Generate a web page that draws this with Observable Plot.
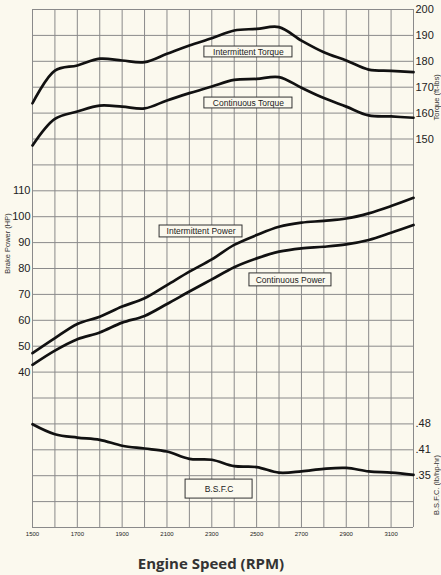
<!DOCTYPE html>
<html>
<head>
<meta charset="utf-8">
<script src="https://cdn.jsdelivr.net/npm/d3@7"></script>
<script src="https://cdn.jsdelivr.net/npm/@observablehq/plot@0.6"></script>
<style>
  html, body { margin: 0; padding: 0; background: #fbf9ee; }
  #chart svg { display: block; background: #fbf9ee; }
  #title {
    width: 422px; padding-right: 19px; text-align: center;
    font: 700 15px "Open Sans", sans-serif; color: #333;
    height: 25px; line-height: 26px;
  }
</style>
</head>
<body>
<div id="chart"></div>
<div id="title">Engine Speed (RPM)</div>
<script>
// ---- data ----
const rpm = [1500,1600,1700,1800,1900,2000,2100,2200,2300,2400,2500,2600,2700,2800,2900,3000,3100,3200];
const intermittentTorque = [163.8,176.4,178.4,181.0,180.3,179.7,182.9,186.1,188.9,191.9,192.5,193.2,188.0,183.5,180.3,176.8,176.3,175.8];
const continuousTorque   = [147.5,157.8,160.6,162.9,162.5,161.8,164.9,167.7,170.3,172.8,173.2,173.9,169.8,165.8,162.5,159.1,158.7,158.2];
const intermittentPower  = [47.3,53.1,58.6,61.4,65.3,68.5,73.6,78.8,83.5,89.1,92.9,96.1,97.7,98.4,99.3,101.3,104.1,107.3];
const continuousPower    = [42.8,48.3,52.7,55.3,59.1,61.7,66.3,71.1,75.8,80.5,83.9,86.5,87.8,88.4,89.3,91.0,93.8,96.8];
const bsfc               = [.479,.452,.443,.437,.421,.4135,.406,.389,.387,.372,.370,.357,.360,.366,.368,.360,.357,.352];

const rpmTicks    = [1500,1700,1900,2100,2300,2500,2700,2900,3100];
const powerTicks  = [40,50,60,70,80,90,100,110];
const torqueTicks = [150,160,170,180,190,200];
const bsfcTicks   = [.35,.41,.48];

// ---- the chart shares one grid: each panel maps onto grid rows ----
const torqueRow = t => t / 10;          // 150..200 -> rows 15..20
const powerRow  = p => p / 10 + 2;      // 40..110  -> rows 6..13
const bsfcRow   = d3.scaleLinear().domain([.35, .41, .48]).range([2, 3, 4]);
const toRow = {torque: torqueRow, power: powerRow, bsfc: bsfcRow};

const series = [
  {name: "Intermittent Torque", panel: "torque", values: intermittentTorque},
  {name: "Continuous Torque",   panel: "torque", values: continuousTorque},
  {name: "Intermittent Power",  panel: "power",  values: intermittentPower},
  {name: "Continuous Power",    panel: "power",  values: continuousPower},
  {name: "B.S.F.C",             panel: "bsfc",   values: bsfc}
];
const lineData = series.flatMap(s => rpm.map((r, i) => ({series: s.name, rpm: r, row: toRow[s.panel](s.values[i])})));

// label boxes (rpm span, value span in each panel's units)
const labels = [
  {text: "Intermittent Torque", panel: "torque", rpm: [2267, 2660], val: [181.5, 185.7]},
  {text: "Continuous Torque",   panel: "torque", rpm: [2267, 2660], val: [161.8, 166.0]},
  {text: "Intermittent Power",  panel: "power",  rpm: [2067, 2437], val: [92.0, 96.6]},
  {text: "Continuous Power",    panel: "power",  rpm: [2468, 2834], val: [73.1, 78.1]},
  {text: "B.S.F.C",             panel: "bsfc",   rpm: [2183, 2482], val: [.297, .341]}
].map(d => ({...d, x1: d.rpm[0], x2: d.rpm[1], y1: toRow[d.panel](d.val[0]), y2: toRow[d.panel](d.val[1])}));

const font = "Liberation Sans, Arial, sans-serif";
const grid = "#8a8a8a";

const chart = Plot.plot({
  width: 441, height: 550,
  marginLeft: 32, marginRight: 28, marginTop: 9, marginBottom: 23,
  style: {background: "#fbf9ee", fontFamily: font},
  x: {domain: [1500, 3200], axis: null},
  y: {domain: [0, 20], axis: null},
  marks: [
    Plot.ruleX(d3.range(1500, 3201, 100), {stroke: grid, strokeWidth: 1}),
    Plot.ruleY(d3.range(0, 21), {stroke: grid, strokeWidth: 1}),
    Plot.line(lineData, {x: "rpm", y: "row", z: "series", stroke: "#111", strokeWidth: 2.7, curve: "catmull-rom"}),
    Plot.rect(labels, {x1: "x1", x2: "x2", y1: "y1", y2: "y2", fill: "#fbf9ee", stroke: "#333", strokeWidth: 1}),
    Plot.text(labels, {x: d => (d.x1 + d.x2) / 2, y: d => (d.y1 + d.y2) / 2, text: "text", fontSize: 8.5, fill: "#222"}),
    // left axis: brake power
    Plot.text(powerTicks, {y: powerRow, text: d => String(d), frameAnchor: "left", textAnchor: "end", dx: -2, fontSize: 11, fill: "#222"}),
    // right axis: torque and BSFC
    Plot.text(torqueTicks, {y: torqueRow, text: d => String(d), frameAnchor: "right", textAnchor: "start", dx: 2, fontSize: 11, fill: "#222"}),
    Plot.text(bsfcTicks, {y: d => bsfcRow(d), text: d => d.toFixed(2).slice(1), frameAnchor: "right", textAnchor: "start", dx: 2, fontSize: 11, fill: "#222"}),
    // x axis
    Plot.text(rpmTicks, {x: d => d, text: d => String(d), frameAnchor: "bottom", dy: 8, fontSize: 6, fill: "#222"}),
    // axis titles
    Plot.text(["Brake Power (HP)"], {y: () => 9.8, frameAnchor: "left", dx: -25, rotate: -90, fontSize: 7.5, fill: "#333"}),
    Plot.text(["Torque (ft-lbs)"], {y: () => 17.5, frameAnchor: "right", dx: 23, rotate: -90, fontSize: 7.5, fill: "#333"}),
    Plot.text(["B.S.F.C. (lb/hp-hr)"], {y: () => 2.8, frameAnchor: "right", dx: 23, rotate: -90, fontSize: 7.5, fill: "#333"})
  ]
});
document.getElementById("chart").append(chart);
</script>
</body>
</html>
